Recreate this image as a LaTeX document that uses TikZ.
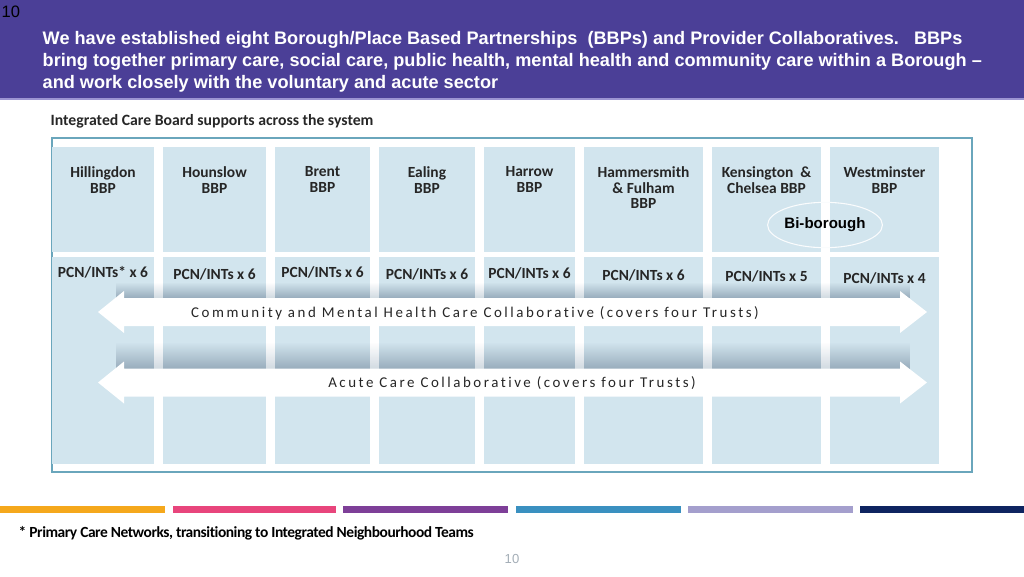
\documentclass[tikz,border=0pt]{standalone}
\usepackage{fontspec}
\newfontfamily\arialfont{Liberation Sans}
\newfontfamily\calfont{Carlito}
\newfontfamily\spacedfont[LetterSpace=17, Ligatures=NoCommon]{Carlito}
\newfontfamily\condfont[LetterSpace=-3, Ligatures=NoCommon]{Carlito}
\usepackage{tikz}
\usetikzlibrary{shapes.geometric, fadings}

\definecolor{hdrpurple}{HTML}{4B3F97}
\definecolor{hdrline}{HTML}{9C94D2}
\definecolor{blockblue}{HTML}{D2E5EE}
\definecolor{framecol}{HTML}{6AA6BC}
\definecolor{shadowcol}{HTML}{98ACBC}
\definecolor{txtdark}{HTML}{262626}
\definecolor{pagegray}{HTML}{A3ADB6}
\definecolor{barorange}{HTML}{F5A81C}
\definecolor{barpink}{HTML}{E8457C}
\definecolor{barpurple}{HTML}{7E3F98}
\definecolor{barblue}{HTML}{3A90C0}
\definecolor{barlav}{HTML}{A49FCD}
\definecolor{barnavy}{HTML}{0E2460}

\tikzfading[name=shadowfade, top color=transparent!100, bottom color=transparent!0]

\begin{document}
\begin{tikzpicture}[x=0.75pt, y=-0.75pt,
    block/.style={fill=blockblue},
    bbplbl/.style={anchor=north, align=center, text=txtdark,
                   font=\calfont\bfseries\fontsize{11.6}{11.6}\selectfont},
    pcnlbl/.style={text=txtdark, font=\calfont\bfseries\fontsize{11.6}{13}\selectfont},
    titlelbl/.style={anchor=west, text=white,
                     font=\arialfont\bfseries\fontsize{13.6}{15}\selectfont},
    collab/.style={text=txtdark, font=\spacedfont\fontsize{11.2}{13}\selectfont},
    shadowband/.style={fill=shadowcol, path fading=shadowfade}
]
    \useasboundingbox (0,0) rectangle (1024,576);

    % header band
    \fill[hdrpurple] (0,0) rectangle (1024,98);
    \fill[hdrline] (0,98) rectangle (1024,100);
    \node[anchor=west, text=black, font=\arialfont\fontsize{12.4}{14}\selectfont]
        (slideno) at (-3,12) {10};
    \node[titlelbl] (title1) at (38,40)
        {We have established eight Borough/Place Based Partnerships\ \ (BBPs) and Provider Collaboratives.\ \ \ BBPs};
    \node[titlelbl] (title2) at (38,62)
        {bring together primary care, social care, public health, mental health and community care within a Borough \textendash};
    \node[titlelbl] (title3) at (38,84)
        {and work closely with the voluntary and acute sector};

    \node[anchor=west, text=txtdark, font=\calfont\bfseries\fontsize{11.8}{13}\selectfont]
        (icb) at (46,121) {Integrated Care Board supports across the system};

    % outer frame
    \draw[framecol, line width=0.8pt] (52,138) rectangle (972,472);

    % borough columns
    \foreach \xl/\xr/\nm/\lbl/\pc/\py in {
        52/154/1/{Hillingdon\\BBP}/{PCN/INTs* x 6}/272,
        163/266/2/{Hounslow\\BBP}/{PCN/INTs x 6}/274,
        275/370/3/{Brent\\BBP}/{PCN/INTs x 6}/272,
        379/475/4/{Ealing\\BBP}/{PCN/INTs x 6}/274,
        484/575/5/{Harrow\\BBP}/{PCN/INTs x 6}/273,
        584/703/6/{Hammersmith\\\& Fulham\\BBP}/{PCN/INTs x 6}/275,
        712/821/7/{Kensington\ \ \&\\Chelsea BBP}/{PCN/INTs x 5}/276,
        830/939/8/{Westminster\\BBP}/{PCN/INTs x 4}/278
    }{
        \fill[block] (\xl,147) rectangle (\xr,252);
        \fill[block] (\xl,257) rectangle (\xr,464);
        \node[bbplbl] (bbp\nm) at ({(\xl+\xr)/2},162) {\lbl};
        \node[pcnlbl] (pcn\nm) at ({(\xl+\xr)/2},\py) {\pc};
    }

    % shadows under the collaborative arrows
    \fill[shadowband] (116,282) rectangle (910,298);
    \fill[shadowband] (116,342) rectangle (910,369);
    \foreach \gl/\gr in {154/163, 266/275, 370/379, 475/484, 575/584, 703/712, 821/830}{
        \fill[white, opacity=0.55] (\gl,282) rectangle (\gr,298);
        \fill[white, opacity=0.55] (\gl,342) rectangle (\gr,369);
    }

    % collaborative arrows
    \fill[white] (98,312) -- (124,291) -- (124,298) -- (900,298) -- (900,291)
        -- (927,312) -- (900,333) -- (900,326) -- (124,326) -- (124,333) -- cycle;
    \fill[white] (98,382.5) -- (124,361.5) -- (124,368.5) -- (900,368.5) -- (900,361.5)
        -- (927,382.5) -- (900,403.5) -- (900,396.5) -- (124,396.5) -- (124,403.5) -- cycle;
    \node[collab] (cmhc) at (475,313)
        {Community and Mental Health Care Collaborative (covers four Trusts)};
    \node[collab] (acute) at (512,383)
        {Acute Care Collaborative (covers four Trusts)};

    % bi-borough
    \node[ellipse, draw=white!90!blockblue, line width=0.8pt, minimum width=78pt,
          minimum height=34pt, inner sep=0pt, text=black,
          font=\arialfont\bfseries\fontsize{11.3}{13}\selectfont]
        (bibor) at (825,225) {Bi-borough};

    % colour bars
    \foreach \bl/\br/\col in {0/165/barorange, 173/336/barpink, 343/508/barpurple,
                              516/681/barblue, 688/853/barlav, 860/1024/barnavy}{
        \fill[\col] (\bl,506) rectangle (\br,513);
    }

    \node[anchor=west, text=black, font=\condfont\bfseries\fontsize{11.6}{13}\selectfont]
        (note) at (14,533) {* Primary Care Networks, transitioning to Integrated Neighbourhood Teams};
    \node[text=pagegray, font=\arialfont\fontsize{9.8}{12}\selectfont]
        (pagenum) at (512,559) {10};
\end{tikzpicture}
\end{document}
